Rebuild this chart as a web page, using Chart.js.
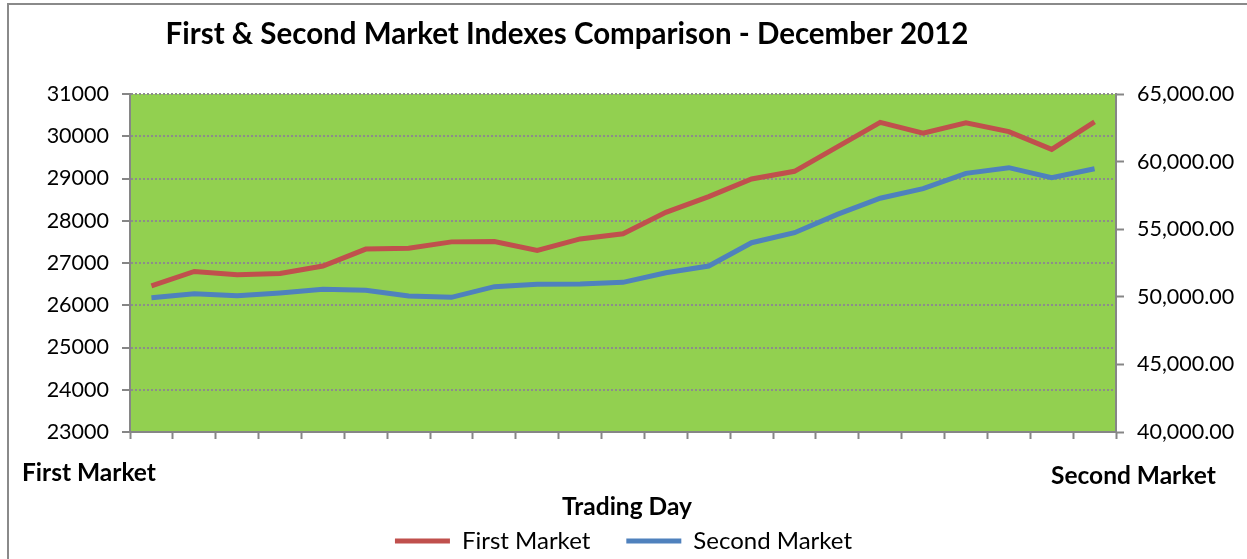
<!DOCTYPE html>
<html>
<head>
<meta charset="utf-8">
<script src="https://cdn.jsdelivr.net/npm/chart.js@4.4.0/dist/chart.umd.min.js"></script>
<style>
  body { margin: 0; background: #fff; overflow: hidden; }
  #frame { position: absolute; left: 7px; top: 3px; width: 1300px; height: 600px; border: 2px solid #8a8a8a; }
  #myChart { position: absolute; left: 0; top: 0; }
</style>
</head>
<body>
<div id="frame"></div>
<canvas id="myChart" width="1247" height="559"></canvas>
<script>
// trading days of December 2012 (no labels shown on the axis)
const days = ['3','4','5','6','7','10','11','12','13','14','17','18','19','20','21','24','25','26','27','28','29','30','31'];

const firstMarket = [26460, 26800, 26720, 26750, 26930, 27330, 27350, 27500, 27510, 27300,
                     27570, 27690, 28200, 28570, 28990, 29170, 29750, 30330, 30070, 30320,
                     30110, 29690, 30340];
const secondMarket = [49930, 50230, 50080, 50280, 50550, 50480, 50060, 49960, 50750, 50920,
                      50950, 51070, 51780, 52280, 54000, 54740, 56100, 57290, 58000, 59130,
                      59550, 58810, 59470];

const leftTicks = { min: 23000, max: 31000, step: 1000 };
const rightTicks = { min: 40000, max: 65000, step: 5000 };

const FONT = 'Lato, "Open Sans", sans-serif';
const axisGray = '#868686';
const LEGEND_SIZE = 24;
const LEGEND_GAP = 36;

// green plot area + loose texts (title, axis names)
const decor = {
    id: 'decor',
    beforeDraw(chart) {
        const a = chart.chartArea;
        const ctx = chart.ctx;
        ctx.save();
        ctx.fillStyle = '#92D050';
        ctx.fillRect(a.left, a.top, a.right - a.left, a.bottom - a.top);
        ctx.restore();
    },
    afterDraw(chart) {
        const ctx = chart.ctx;
        ctx.save();
        ctx.fillStyle = '#000';
        ctx.textBaseline = 'middle';
        ctx.font = 'bold 29.5px ' + FONT;
        ctx.textAlign = 'center';
        ctx.fillText('First & Second Market Indexes Comparison - December 2012', 567, 34);
        ctx.font = 'bold 24.5px ' + FONT;
        ctx.fillText('Trading Day', 627, 507);
        ctx.textAlign = 'left';
        ctx.fillText('First Market', 22, 473);
        ctx.fillText('Second Market', 1051, 476);
        ctx.restore();
    }
};

const ctx = document.getElementById('myChart').getContext('2d');
const myChart = new Chart(ctx, {
    type: 'line',
    data: {
        labels: days,
        datasets: [{
            label: 'First Market',
            data: firstMarket,
            borderColor: '#C0504D',
            backgroundColor: '#C0504D',
            borderWidth: 5,
            pointRadius: 0,
            tension: 0,
            yAxisID: 'y'
        }, {
            label: 'Second Market',
            data: secondMarket,
            borderColor: '#4F81BD',
            backgroundColor: '#4F81BD',
            borderWidth: 5,
            pointRadius: 0,
            tension: 0,
            yAxisID: 'y2'
        }]
    },
    options: {
        responsive: false,
        animation: false,
        layout: { padding: { top: 94, left: 0, right: 0, bottom: -4 } },
        plugins: {
            title: { display: false },
            tooltip: { enabled: false },
            legend: {
                position: 'bottom',
                labels: {
                    font: { family: FONT, size: LEGEND_SIZE },
                    color: '#000',
                    usePointStyle: true,
                    pointStyle: 'line',
                    pointStyleWidth: 55,
                    padding: LEGEND_GAP
                }
            }
        },
        scales: {
            x: {
                offset: true,
                // legend box = size + gap + 10, bottom edge at 563; plot bottom at 432
                afterFit(s) { s.height = 563 - (LEGEND_SIZE + LEGEND_GAP + 10) - 432; },
                ticks: { display: false },
                grid: { offset: true, drawOnChartArea: false, drawTicks: true, tickLength: 7, tickColor: axisGray, tickWidth: 2 },
                border: { display: true, color: axisGray, width: 2 }
            },
            y: {
                position: 'left',
                min: leftTicks.min,
                max: leftTicks.max,
                afterFit(s) { s.width = 130; },
                ticks: {
                    stepSize: leftTicks.step,
                    padding: 13,
                    color: '#000',
                    font: { family: FONT, size: 21.5 },
                    callback: v => String(v)
                },
                grid: { color: '#8c8c8c', lineWidth: 2, tickLength: 8, tickColor: axisGray, tickBorderDash: [] },
                border: { display: true, color: axisGray, width: 2, dash: [2, 2] }
            },
            y2: {
                position: 'right',
                min: rightTicks.min,
                max: rightTicks.max,
                afterFit(s) { s.width = 131; },
                ticks: {
                    stepSize: rightTicks.step,
                    padding: 13,
                    color: '#000',
                    font: { family: FONT, size: 21.5 },
                    callback: v => v.toLocaleString('en-US', { minimumFractionDigits: 2, maximumFractionDigits: 2 })
                },
                grid: { drawOnChartArea: false, tickLength: 8, tickColor: axisGray, tickWidth: 2 },
                border: { display: true, color: axisGray, width: 2 }
            }
        }
    },
    plugins: [decor]
});
</script>
</body>
</html>
